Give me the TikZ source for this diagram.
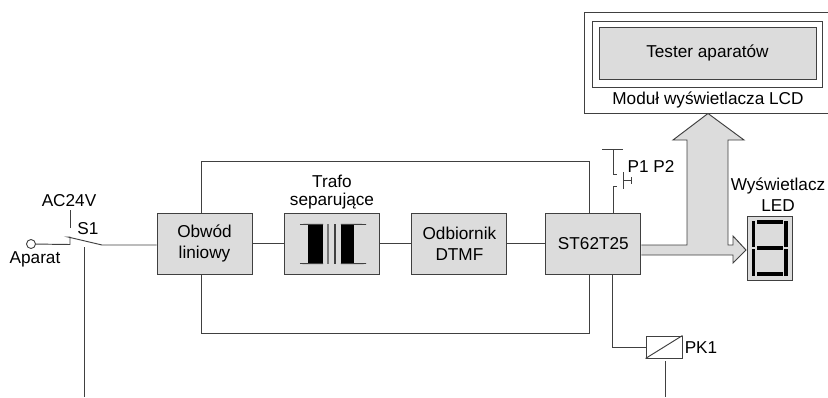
\documentclass[tikz,border=0pt]{standalone}
\usepackage{fontspec}
\setmainfont{Liberation Sans}
\usetikzlibrary{positioning}
\definecolor{boxgray}{HTML}{DCDCDC}
\definecolor{linegray}{HTML}{404040}
\tikzset{
	blok/.style={draw=linegray, fill=boxgray, line width=0.95pt, minimum width=95pt, minimum height=61pt, inner sep=0pt, align=center},
	opis/.style={inner sep=0pt, align=center},
	polaczenie/.style={draw=linegray, line width=0.95pt},
	segment/.style={line width=3.3pt, black}
}
\begin{document}
\begin{tikzpicture}[x=1pt, y=-1pt, font=\fontsize{17.2}{21}\selectfont, line join=miter, >=stealth]
	\useasboundingbox (0,0) rectangle (828,397);
	% bloki glowne
	\node[blok] (obwod) at (204.5,243.5) {Obwód\\liniowy};
	\node[blok, right=32pt of obwod] (trafo) {};
	\node[blok, right=31pt of trafo] (odbiornik) {Odbiornik\\DTMF};
	\node[blok, right=38pt of odbiornik] (st) {ST62T25};
	% modul LCD
	\node[draw=linegray, fill=white, line width=0.95pt, minimum width=245pt, minimum height=101pt, inner sep=0pt] (modul) at (706.5,62.5) {};
	\node[draw=linegray, fill=white, line width=0.95pt, minimum width=230pt, minimum height=66pt, inner sep=0pt] (ramka) at (707,54) {};
	\node[blok, minimum width=217pt, minimum height=52pt] (tester) at (707.5,53) {Tester aparatów};
	\node[opis] (lcd) at (708,100) {Moduł wyświetlacza LCD};
	% szerokie strzalki
	\draw[polaczenie, fill=boxgray] (st.east |- 0,245) -- (687,245) -- (687,140) -- (673,140) -- (modul.south -| 708,0) -- (744,140) -- (728,140) -- (728,245) -- (733,245) -- (733,236) -- (746,250) -- (733,263) -- (733,255) -- (st.east |- 0,255);
	% wyswietlacz LED
	\node[blok, minimum width=45pt, minimum height=64pt] (led) at (769.5,248) {};
	\foreach \y in {222,248,274}
	\draw[segment] (757,\y) -- (783,\y);
	\foreach \x in {753.5,786}{
		\draw[segment] (\x,221) -- (\x,247);
		\draw[segment] (\x,249) -- (\x,276);
	}
	\node[opis] (wysw) at (778,186) {Wyświetlacz};
	\node[opis] (ledopis) at (778,206) {LED};
	% polaczenia miedzy blokami
	\draw[polaczenie] (obwod) -- (trafo);
	\draw[polaczenie] (trafo) -- (odbiornik);
	\draw[polaczenie] (odbiornik) -- (st);
	\draw[polaczenie] (obwod.north -| 201,0) -- (201,161) -- (589,161) -- (st.north -| 589,0);
	\draw[polaczenie] (obwod.south -| 201,0) -- (201,333.5) -- (589,333.5) -- (st.south -| 589,0);
	% trafo
	\node[fill=black, minimum width=15pt, minimum height=39pt, inner sep=0pt] (rdzen1) at (315.5,244) {};
	\node[fill=black, minimum width=13pt, minimum height=39pt, inner sep=0pt] (rdzen2) at (347.5,244) {};
	\draw[polaczenie] (300,224.5) -- (rdzen1.north east);
	\draw[polaczenie] (300,263.5) -- (rdzen1.south east);
	\draw[polaczenie] (rdzen2.north west) -- (366,224.5);
	\draw[polaczenie] (rdzen2.south west) -- (366,263.5);
	\draw[polaczenie, line width=1.8pt, linegray!70] (328,224) -- (328,264);
	\draw[polaczenie, line width=1.4pt] (335,224) -- (335,264);
	\node[opis] (trafo1) at (332,181) {Trafo};
	\node[opis] (trafo2) at (332,201) {separujące};
	% wejscie S1
	\node[draw=linegray, fill=white, circle, minimum size=9pt, inner sep=0pt, line width=0.9pt] (aparat) at (31,244) {};
	\node[opis] (aparatopis) at (35,259) {Aparat};
	\node[opis] (ac) at (69,201) {AC24V};
	\node[opis] (s1) at (88,229) {S1};
	\coordinate (ac1) at (70,210);
	\coordinate (ac2) at (70,228);
	\coordinate (zestyk) at (68,237);
	\coordinate (koniec) at (102,245);
	\coordinate (dol1) at (84,247);
	\coordinate (dol2) at (84,397);
	\draw[polaczenie] (aparat) -- (70,244.5) -- (70,237) -- (zestyk) -- (koniec) -- (obwod.west |- koniec);
	\draw[polaczenie] (ac1) -- (ac2);
	\draw[polaczenie] (dol1) -- (dol2);
	% przyciski P1 P2
	\node[opis] (p) at (651,166) {P1 P2};
	\coordinate (p1) at (613,149);
	\draw[polaczenie] (602,149) -- (623,149);
	\draw[polaczenie] (p1) -- (613,174) -- (617,174);
	\draw[polaczenie] (st.north -| 613,0) -- (613,186) -- (617,186);
	\draw[polaczenie] (623,172) -- (623,189);
	\draw[polaczenie] (623,180) -- (631,180);
	\draw[polaczenie] (631,177) -- (631,184);
	% przekaznik
	\node[draw=linegray, fill=white, line width=0.95pt, minimum width=36pt, minimum height=22pt, inner sep=0pt] (pk) at (664,347) {};
	\draw[polaczenie] (pk.south west) -- (pk.north east);
	\node[opis] (pkopis) at (701,348) {PK1};
	\draw[polaczenie] (st.south -| 612,0) -- (612,347) -- (pk.west);
	\coordinate (pk1) at (665,361);
	\coordinate (pk2) at (665,397);
	\draw[polaczenie] (pk1) -- (pk2);
\end{tikzpicture}
\end{document}
